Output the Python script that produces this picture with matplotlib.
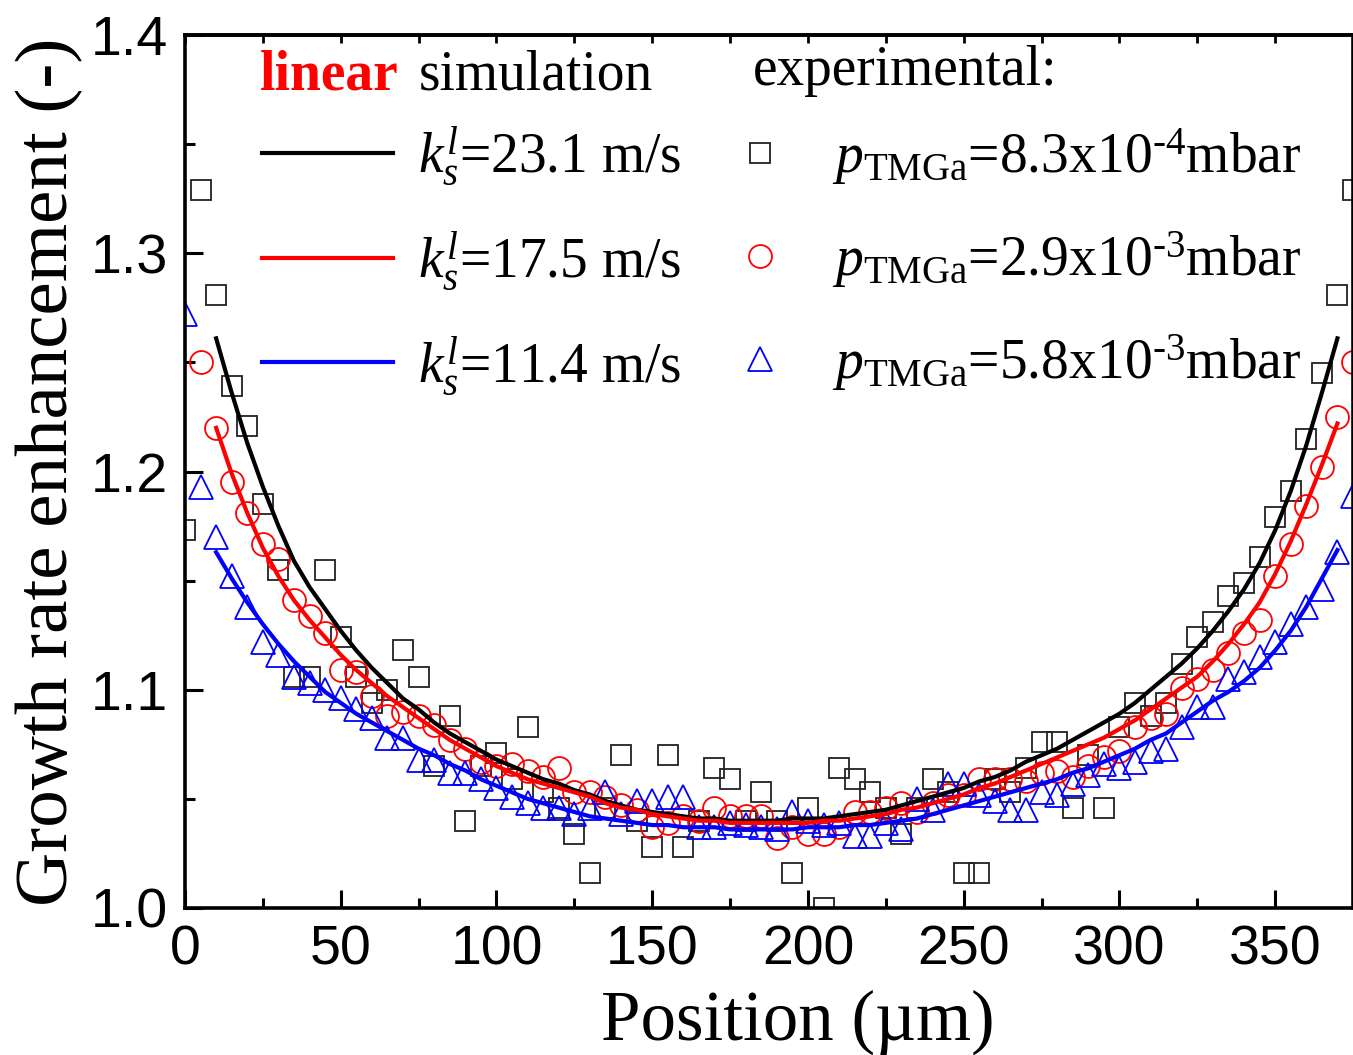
import matplotlib
matplotlib.use("Agg")
import matplotlib.pyplot as plt

plt.rcParams['mathtext.fontset'] = 'custom'
plt.rcParams['mathtext.rm'] = 'Liberation Serif'
plt.rcParams['mathtext.it'] = 'Liberation Serif:italic'
plt.rcParams['mathtext.bf'] = 'Liberation Serif:bold'

# ---------------- data ----------------
x_sq = [0, 5, 10, 15, 20, 25, 30, 35, 40, 45, 50, 55, 60, 65, 70, 75, 80, 85, 90, 95,
        100, 105, 110, 115, 120, 125, 130, 135, 140, 145, 150, 155, 160, 165, 170, 175,
        180, 185, 190, 195, 200, 205, 210, 215, 220, 225, 230, 235, 240, 245, 250, 255,
        260, 265, 270, 275, 280, 285, 290, 295, 300, 305, 310, 315, 320, 325, 330, 335,
        340, 345, 350, 355, 360, 365, 370, 375]
y_sq = [1.173, 1.329, 1.281, 1.239, 1.221, 1.185, 1.155, 1.106, 1.106, 1.155, 1.124, 1.106,
        1.094, 1.100, 1.118, 1.106, 1.065, 1.088, 1.040, 1.065, 1.071, 1.059, 1.083, 1.053,
        1.046, 1.034, 1.016, 1.046, 1.070, 1.040, 1.028, 1.070, 1.028, 1.040, 1.064, 1.059,
        1.040, 1.053, 1.040, 1.016, 1.046, 1.000, 1.064, 1.059, 1.053, 1.046, 1.034, 1.046,
        1.059, 1.053, 1.016, 1.016, 1.059, 1.053, 1.064, 1.076, 1.076, 1.046, 1.070, 1.046,
        1.083, 1.094, 1.088, 1.094, 1.112, 1.124, 1.131, 1.143, 1.149, 1.161, 1.179, 1.191,
        1.215, 1.245, 1.281, 1.329]

x_ci = [5, 10, 15, 20, 25, 30, 35, 40, 45, 50, 55, 60, 65, 70, 75, 80, 85, 90, 95,
        100, 105, 110, 115, 120, 125, 130, 135, 140, 145, 150, 155, 160, 165, 170, 175,
        180, 185, 190, 195, 200, 205, 210, 215, 220, 225, 230, 235, 240, 245, 250, 255,
        260, 265, 270, 275, 280, 285, 290, 295, 300, 305, 310, 315, 320, 325, 330, 335,
        340, 345, 350, 355, 360, 365, 370, 375]
y_ci = [1.250, 1.220, 1.195, 1.181, 1.167, 1.160, 1.141, 1.134, 1.126, 1.109, 1.108, 1.097,
        1.088, 1.090, 1.088, 1.084, 1.077, 1.073, 1.067, 1.065, 1.066, 1.063, 1.060, 1.064,
        1.053, 1.053, 1.051, 1.047, 1.045, 1.037, 1.039, 1.042, 1.040, 1.046, 1.042, 1.042,
        1.042, 1.032, 1.037, 1.034, 1.034, 1.037, 1.044, 1.044, 1.046, 1.048, 1.044, 1.048,
        1.052, 1.052, 1.059, 1.059, 1.059, 1.058, 1.062, 1.063, 1.060, 1.065, 1.069, 1.072,
        1.083, 1.087, 1.089, 1.101, 1.105, 1.109, 1.117, 1.126, 1.132, 1.152, 1.167, 1.184,
        1.202, 1.225, 1.250]

x_tr = x_sq
y_tr = [1.272, 1.193, 1.170, 1.152, 1.138, 1.122, 1.116, 1.106, 1.103, 1.100, 1.096, 1.091,
        1.087, 1.078, 1.078, 1.068, 1.068, 1.062, 1.062, 1.059, 1.055, 1.051, 1.048, 1.046,
        1.046, 1.043, 1.046, 1.053, 1.043, 1.049, 1.049, 1.051, 1.051, 1.037, 1.037, 1.039,
        1.038, 1.037, 1.036, 1.044, 1.040, 1.038, 1.039, 1.033, 1.033, 1.039, 1.036, 1.050,
        1.045, 1.057, 1.057, 1.052, 1.049, 1.045, 1.045, 1.053, 1.052, 1.057, 1.061, 1.066,
        1.064, 1.067, 1.072, 1.073, 1.083, 1.092, 1.092, 1.105, 1.108, 1.115, 1.122, 1.130,
        1.138, 1.146, 1.163, 1.189]

x_sim = [10, 15, 20, 25, 30, 35, 40, 45, 50, 55, 60, 65, 70, 75, 80, 85, 90, 95,
         100, 105, 110, 115, 120, 125, 130, 135, 140, 145, 150, 155, 160, 165, 170, 175,
         180, 185, 190, 195, 200, 205, 210, 215, 220, 225, 230, 235, 240, 245, 250, 255,
         260, 265, 270, 275, 280, 285, 290, 295, 300, 305, 310, 315, 320, 325, 330, 335,
         340, 345, 350, 355, 360, 365, 370]
y_sim_231 = [1.261, 1.236, 1.213, 1.193, 1.175, 1.159, 1.147, 1.137, 1.127, 1.118, 1.110,
             1.103, 1.096, 1.091, 1.085, 1.080, 1.076, 1.072, 1.068, 1.065, 1.062, 1.059,
             1.057, 1.054, 1.052, 1.049, 1.047, 1.045, 1.044, 1.043, 1.042, 1.041, 1.041,
             1.040, 1.040, 1.040, 1.040, 1.041, 1.041, 1.041, 1.042, 1.043, 1.044, 1.045,
             1.047, 1.049, 1.051, 1.053, 1.055, 1.058, 1.060, 1.063, 1.067, 1.070, 1.073,
             1.077, 1.081, 1.085, 1.089, 1.094, 1.100, 1.106, 1.112, 1.119, 1.127, 1.136,
             1.146, 1.158, 1.173, 1.191, 1.212, 1.236, 1.261]
y_sim_175 = [1.220, 1.199, 1.181, 1.165, 1.152, 1.141, 1.132, 1.124, 1.116, 1.109, 1.103,
             1.097, 1.092, 1.087, 1.082, 1.077, 1.073, 1.069, 1.065, 1.062, 1.059, 1.057,
             1.055, 1.053, 1.051, 1.048, 1.046, 1.045, 1.043, 1.042, 1.041, 1.040, 1.040,
             1.039, 1.039, 1.039, 1.039, 1.039, 1.039, 1.040, 1.040, 1.041, 1.042, 1.043,
             1.045, 1.046, 1.048, 1.050, 1.052, 1.055, 1.057, 1.060, 1.063, 1.066, 1.069,
             1.072, 1.075, 1.078, 1.082, 1.086, 1.091, 1.096, 1.101, 1.106, 1.113, 1.121,
             1.130, 1.140, 1.153, 1.168, 1.185, 1.203, 1.222]
y_sim_114 = [1.163, 1.151, 1.140, 1.130, 1.121, 1.113, 1.106, 1.099, 1.094, 1.089, 1.085,
             1.081, 1.077, 1.073, 1.070, 1.066, 1.063, 1.059, 1.056, 1.053, 1.050, 1.048,
             1.046, 1.044, 1.042, 1.041, 1.040, 1.039, 1.038, 1.038, 1.037, 1.037, 1.037,
             1.036, 1.036, 1.036, 1.036, 1.036, 1.037, 1.037, 1.037, 1.038, 1.038, 1.039,
             1.040, 1.041, 1.043, 1.045, 1.047, 1.049, 1.051, 1.053, 1.055, 1.057, 1.059,
             1.062, 1.064, 1.067, 1.070, 1.073, 1.077, 1.080, 1.085, 1.090, 1.095, 1.099,
             1.104, 1.110, 1.118, 1.127, 1.138, 1.151, 1.164]

sim_labels = [r'$k_s^l$=23.1 m/s', r'$k_s^l$=17.5 m/s', r'$k_s^l$=11.4 m/s']
exp_labels = ['$p_{\\mathrm{TMGa}}$=8.3x10$^{\\mathrm{\u20104}}$mbar',
              '$p_{\\mathrm{TMGa}}$=2.9x10$^{\\mathrm{\u20103}}$mbar',
              '$p_{\\mathrm{TMGa}}$=5.8x10$^{\\mathrm{\u20103}}$mbar']
x_ticks = [0, 50, 100, 150, 200, 250, 300, 350]
x_minor = [25, 75, 125, 175, 225, 275, 325, 375]
y_ticks = [1.0, 1.1, 1.2, 1.3, 1.4]
y_minor = [1.05, 1.15, 1.25, 1.35]

# ---------------- figure ----------------
fig = plt.figure(figsize=(13.53, 10.55), dpi=100)
ax = fig.add_axes([185 / 1353, 1 - 908 / 1055, 1168 / 1353, 873 / 1055])

sq, = ax.plot(x_sq, y_sq, linestyle='none', marker='s', ms=14, mfc='none',
              mec='#222222', mew=1.3, zorder=2)
ci, = ax.plot(x_ci, y_ci, linestyle='none', marker='o', ms=16.5, mfc='none',
              mec='red', mew=1.3, zorder=2)
tr, = ax.plot(x_tr, y_tr, linestyle='none', marker='^', ms=17, mfc='none',
              mec='blue', mew=1.3, zorder=2)

l1, = ax.plot(x_sim, y_sim_231, color='black', lw=3.0, zorder=3)
l2, = ax.plot(x_sim, y_sim_175, color='red', lw=3.0, zorder=3)
l3, = ax.plot(x_sim, y_sim_114, color='blue', lw=3.0, zorder=3)

ax.set_xlim(0, 375)
ax.set_ylim(1.0, 1.4)
ax.set_xticks(x_ticks)
ax.set_xticks(x_minor, minor=True)
ax.set_yticks(y_ticks)
ax.set_yticks(y_minor, minor=True)
ax.set_yticklabels([f'{v:.1f}' for v in y_ticks])
ax.tick_params(which='both', direction='in', top=False, right=False, width=2.2,
               labelsize=40, labelfontfamily='Liberation Sans')
ax.tick_params(which='major', length=13)
ax.tick_params(which='minor', length=7)
ax.tick_params(axis='x', pad=12)
ax.tick_params(axis='y', pad=12)
for s in ax.spines.values():
    s.set_linewidth(2.6)

# short ticks on the top axis
top = ax.secondary_xaxis('top')
top.set_xticks(sorted(x_ticks + x_minor))
top.tick_params(direction='in', length=6, width=2.0, labeltop=False)
top.spines['top'].set_linewidth(2.6)

ax.set_xlabel('Position (\u00b5m)', fontfamily='Liberation Serif', fontsize=51, labelpad=2)
ax.xaxis.set_label_coords(0.525, -0.094)
ax.set_ylabel('Growth rate enhancement (-)', fontfamily='Liberation Serif', fontsize=54,
              labelpad=8)
ax.yaxis.set_label_coords(-0.087, 0.5)

# headers
ax.text(0.064, 0.937, 'linear', transform=ax.transAxes, color='red', fontsize=40,
        fontweight='bold', fontfamily='Liberation Serif', va='baseline')
ax.text(0.2, 0.937, 'simulation', transform=ax.transAxes, color='black', fontsize=40,
        fontfamily='Liberation Serif', va='baseline')
ax.text(0.486, 0.943, 'experimental:', transform=ax.transAxes, color='black', fontsize=40,
        fontfamily='Liberation Serif', va='baseline')

leg1 = ax.legend([l1, l2, l3], sim_labels, loc='upper left', bbox_to_anchor=(0.066, 0.897),
                 frameon=False, prop={'family': 'Liberation Serif', 'size': 40},
                 handlelength=2.35, handletextpad=0.45, labelspacing=0.76,
                 borderaxespad=0, borderpad=0)
ax.add_artist(leg1)
leg2 = ax.legend([sq, ci, tr], exp_labels, loc='upper left', bbox_to_anchor=(0.473, 0.896),
                 frameon=False, prop={'family': 'Liberation Serif', 'size': 40},
                 handlelength=0.8, handletextpad=0.9, labelspacing=0.76, numpoints=1,
                 markerscale=1.0, borderaxespad=0, borderpad=0)

fig.savefig('out.png', dpi=100)
